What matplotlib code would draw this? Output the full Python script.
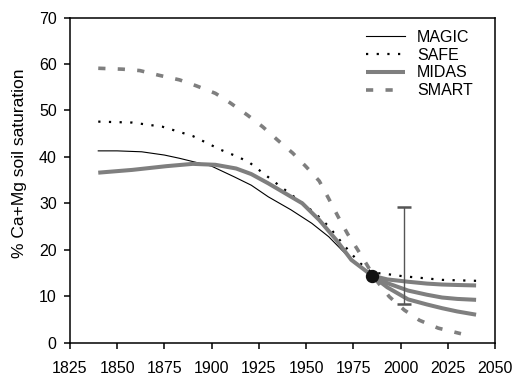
import matplotlib
matplotlib.use("Agg")
import matplotlib.pyplot as plt

plt.rcParams['font.family'] = ['Liberation Sans', 'DejaVu Sans']

# ---- data ----
magic_years = [1840, 1850, 1863, 1875, 1883, 1892, 1900, 1912, 1921, 1930, 1942, 1953, 1962, 1969, 1976, 1985]
magic_vals = [41.3, 41.3, 41.1, 40.4, 39.7, 38.8, 38.0, 35.7, 33.9, 31.4, 28.6, 25.7, 22.8, 19.9, 17.1, 14.4]

midas_years = [1840, 1858, 1876, 1890, 1902, 1913, 1921, 1930, 1948, 1957, 1966, 1974, 1985]
midas_vals = [36.6, 37.2, 38.0, 38.5, 38.3, 37.5, 36.3, 34.3, 30.0, 26.4, 22.1, 17.8, 14.4]

branch_years = [1985, 1993, 2004, 2014, 2022, 2030, 2040]
midas_high = [14.4, 13.6, 13.1, 12.7, 12.5, 12.4, 12.3]
midas_mid = [14.4, 12.8, 11.2, 10.3, 9.7, 9.4, 9.2]
midas_low = [14.4, 11.9, 9.3, 8.2, 7.4, 6.7, 6.0]

safe_years = [1840, 1858, 1874, 1890, 1905, 1914, 1920, 1932, 1946, 1955, 1962, 1970, 1978, 1985, 1990, 2001, 2022, 2040]
safe_vals = [47.6, 47.4, 46.5, 44.5, 41.5, 40.0, 38.8, 35.0, 30.7, 27.8, 25.0, 21.0, 17.3, 15.0, 14.9, 14.3, 13.5, 13.3]

smart_years = [1840, 1853, 1862, 1872, 1883, 1892, 1902, 1910, 1919, 1927, 1935, 1943, 1950, 1957,
               1962, 1967, 1972, 1977, 1982, 1987, 1994, 2002, 2010, 2020, 2032]
smart_vals = [59.1, 58.9, 58.6, 57.6, 56.6, 55.3, 53.7, 51.6, 49.0, 46.5, 43.6, 40.8, 37.9, 34.8,
              31.0, 27.1, 23.4, 20.2, 16.9, 13.5, 9.9, 7.0, 4.8, 3.1, 1.9]

obs_year = 1985
obs_val = 14.4

err_year = 2002
err_low = 8.2
err_high = 29.2

x_ticks = [1825, 1850, 1875, 1900, 1925, 1950, 1975, 2000, 2025, 2050]
y_ticks = [0, 10, 20, 30, 40, 50, 60, 70]

# ---- figure ----
gray = '#7f7f7f'
fig = plt.figure(figsize=(5.14, 3.76), dpi=100)
ax = fig.add_axes([0.136, 0.089, 0.827, 0.864])

ax.plot(magic_years, magic_vals, color='black', lw=0.8, label='MAGIC')
l_safe, = ax.plot(safe_years, safe_vals, color='black', lw=1.6, label='SAFE')
l_safe.set_dashes((1, 3.8))
ax.plot(midas_years, midas_vals, color=gray, lw=2.9, label='MIDAS', solid_capstyle='butt')
for br in (midas_high, midas_mid, midas_low):
    ax.plot(branch_years, br, color=gray, lw=2.9, solid_capstyle='butt')
l_smart, = ax.plot(smart_years, smart_vals, color=gray, lw=2.6, label='SMART')
l_smart.set_dashes((2.0, 3.4))

eb = ax.errorbar([err_year], [(err_low + err_high) / 2], yerr=[[(err_high - err_low) / 2]],
                 fmt='none', ecolor='#555555', elinewidth=1.0, capsize=4.7, capthick=1.8)
for cap in eb[1]:
    cap.set_color('#111111')
ax.plot([obs_year], [obs_val], 'o', color='#111111', markersize=8.6, zorder=5)

ax.set_xlim(1825, 2050)
ax.set_ylim(0, 70)
ax.set_xticks(x_ticks)
ax.set_yticks(y_ticks)
ax.tick_params(axis='both', direction='out', length=4.5, width=1.1, labelsize=11.5)
ax.tick_params(axis='x', pad=9)
ax.tick_params(axis='y', pad=5)
for s in ax.spines.values():
    s.set_linewidth(1.1)

ax.set_ylabel('% Ca+Mg soil saturation', fontsize=12.5)
ax.yaxis.set_label_coords(-0.101, 0.551)

leg = ax.legend(loc='upper left', bbox_to_anchor=(366 / 514, 1 - 30 / 376),
                bbox_transform=fig.transFigure, frameon=False, fontsize=11.5,
                handlelength=2.45, handletextpad=0.75, labelspacing=0.17,
                borderpad=0, borderaxespad=0)

fig.savefig('out.png', dpi=100)
